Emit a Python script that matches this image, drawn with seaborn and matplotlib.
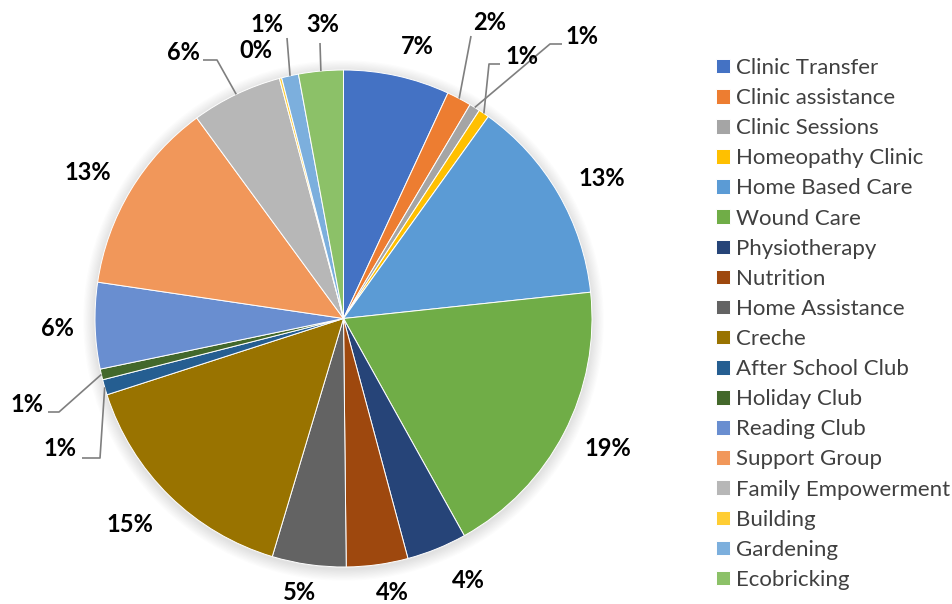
import numpy as np
import matplotlib
matplotlib.use("Agg")
import matplotlib.pyplot as plt
from matplotlib.patches import Circle
import seaborn as sns

# ---------------- data ----------------
categories = ["Clinic Transfer", "Clinic assistance", "Clinic Sessions", "Homeopathy Clinic",
              "Home Based Care", "Wound Care", "Physiotherapy", "Nutrition", "Home Assistance",
              "Creche", "After School Club", "Holiday Club", "Reading Club", "Support Group",
              "Family Empowerment", "Building", "Gardening", "Ecobricking"]
values = [6.9, 1.6, 0.7, 0.7, 13.4, 18.6, 3.9, 4.0, 4.8, 15.4, 1.0, 0.7, 5.6, 12.6, 5.9, 0.15, 1.1, 2.9]
colors = ["#4472C4", "#ED7D31", "#A5A5A5", "#FFC000", "#5B9BD5", "#70AD47", "#264478", "#9E480E",
          "#636363", "#997300", "#255E91", "#43682B", "#698ED0", "#F1975A", "#B7B7B7", "#FFCD33",
          "#7CAFDD", "#8CC168"]

# ---------------- layout (pixel space) ----------------
W, H = 952, 604
CX, CY, R = 343.5, 318.5, 248.5
label_pos = [(417, 47), (490, 23), (582, 37), (522, 57), (602, 178), (608, 448), (468, 580),
             (392, 593), (300, 593), (130, 525), (60, 449), (27, 404), (57, 328), (88, 172),
             (183, 52), (256, 50), (267, 24), (323, 24)]
# leader lines: index -> elbow points (after wedge edge point)
leaders = {1: [(471, 36)],
           2: [(550, 44), (562, 44)],
           3: [(489, 64), (500, 64)],
           10: [(100, 458), (82, 458)],
           11: [(59, 412), (48, 412)],
           14: [(217, 60), (203, 60)],
           16: [(287, 38)],
           17: [(320, 43)]}

sns.set_theme(style="white")
plt.rcParams['font.family'] = ['Lato', 'DejaVu Sans']
palette = sns.color_palette(colors)

fig = plt.figure(figsize=(W / 100, H / 100), dpi=100)
ax = fig.add_axes([0, 0, 1, 1])

# soft shadow halo
for i in range(10):
    ax.add_patch(Circle((CX, H - CY - 2), R + 1 + i * 1.2, color="black",
                        alpha=0.012, lw=0, zorder=0))

wedges, _ = ax.pie(values, colors=palette, startangle=90, counterclock=False,
                   center=(CX, H - CY), radius=R,
                   wedgeprops=dict(edgecolor="white", linewidth=0.7))
for w in wedges:
    w.set_zorder(2)

total = sum(values)
cum = np.cumsum([0] + values)
for i, v in enumerate(values):
    pct = f"{round(v / total * 100):.0f}%"
    lx, ly = label_pos[i]
    ax.text(lx, H - ly, pct, ha="center", va="center", fontsize=17,
            fontweight="bold", color="black", zorder=5)
    if i in leaders:
        mid = (cum[i] + cum[i + 1]) / 2 / total * 2 * np.pi
        sx = CX + R * np.sin(mid)
        sy = CY - R * np.cos(mid)
        pts = [(sx, sy)] + leaders[i]
        ax.plot([p[0] for p in pts], [H - p[1] for p in pts], color="#7F7F7F",
                lw=1.2, zorder=4, solid_capstyle="butt")

ax.set_xlim(0, W)
ax.set_ylim(0, H)
ax.set_aspect("auto")
ax.axis("off")

leg = ax.legend(wedges, categories, loc="upper left", bbox_to_anchor=(716, H - 58),
                bbox_transform=ax.transData, frameon=False, fontsize=16,
                handlelength=0.63, handleheight=0.63, handletextpad=0.27,
                labelspacing=0.455, borderpad=0, borderaxespad=0)
for t in leg.get_texts():
    t.set_color("#404040")

fig.savefig("out.png", dpi=100, facecolor="white")
